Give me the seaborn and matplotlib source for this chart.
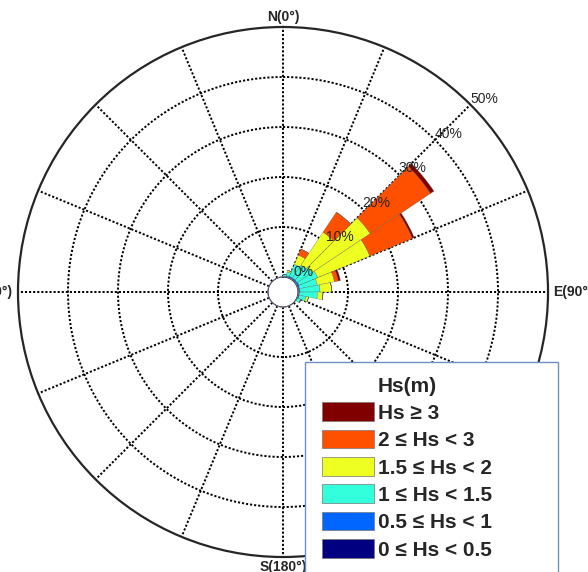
import numpy as np
import matplotlib
matplotlib.use("Agg")
import matplotlib.pyplot as plt
from matplotlib.patches import Rectangle
import seaborn as sns

# direction bins (deg, centre of 11.25 deg sectors)
directions = [5.625, 16.875, 28.125, 39.375, 50.625, 61.875, 73.125, 84.375, 95.625, 106.875, 118.125]
# frequency (%) per Hs class for each direction bin
hs_0_05 = [0.1, 0.1, 0.1, 0.1, 0.1, 0.1, 0.1, 0.1, 0.1, 0.1, 0.0]
hs_05_1 = [0.1, 0.2, 0.3, 0.3, 0.3, 0.4, 0.3, 0.3, 0.2, 0.2, 0.1]
hs_1_15 = [0.3, 0.8, 2.6, 3.1, 3.6, 4.0, 3.6, 4.0, 3.6, 1.4, 0.7]
hs_15_2 = [0.0, 0.3, 2.0, 7.9, 14.0, 11.3, 3.5, 2.3, 1.1, 0.5, 0.1]
hs_2_3 = [0.0, 0.0, 1.3, 4.8, 14.5, 9.2, 0.8, 0.0, 0.0, 0.0, 0.0]
hs_3 = [0.0, 0.0, 0.0, 0.0, 0.8, 0.4, 0.4, 0.0, 0.0, 0.0, 0.0]

classes = ["0 \u2264 Hs < 0.5", "0.5 \u2264 Hs < 1", "1 \u2264 Hs < 1.5",
           "1.5 \u2264 Hs < 2", "2 \u2264 Hs < 3", "Hs \u2265 3"]
palette = sns.color_palette(["#000080", "#0066ff", "#33ffdd", "#eeff22", "#ff5000", "#800000"])

ring_ticks = [0, 10, 20, 30, 40, 50]

sns.set_style("white")
plt.rcParams['font.family'] = ['Liberation Sans', 'DejaVu Sans']

fig = plt.figure(figsize=(5.88, 5.72), dpi=100)
ax = fig.add_axes([0.0306, 0.0262, 0.9014, 0.9266], projection='polar')
ax.set_theta_zero_location('N')
ax.set_theta_direction(-1)
ax.set_ylim(0, 50)
ax.set_rorigin(-3)

theta = np.deg2rad(directions)
width = np.deg2rad(11.25)
bottom = np.zeros(len(directions))
bars = []
for vals, col, lab in zip([hs_0_05, hs_05_1, hs_1_15, hs_15_2, hs_2_3, hs_3], palette, classes):
    b = ax.bar(theta, vals, width=width, bottom=bottom, color=col, label=lab,
               edgecolor='#555555', linewidth=0.2, zorder=2)
    bars.append(b)
    bottom = bottom + np.array(vals)

# grid
ax.set_yticks([10, 20, 30, 40])
ax.set_yticklabels([])
ax.set_xticks(np.deg2rad(np.arange(0, 360, 22.5)))
ax.set_xticklabels([])
ax.grid(True, color='black', linestyle=(0, (1.1, 1.0)), linewidth=1.4)
ax.set_axisbelow(True)
ax.spines['polar'].set_linewidth(1.6)
tt = np.linspace(0, 2 * np.pi, 200)
ax.plot(tt, np.zeros_like(tt), color='#8a8fb0', linewidth=0.9, zorder=3)

# ring labels
for r in ring_ticks:
    ax.text(np.deg2rad(46.3), r + 2.8, f"{r}%", ha='center', va='center', fontsize=10, zorder=4)

# direction labels
ax.text(0, 50.6, "N(0\u00b0)", ha='center', va='bottom', fontsize=10, fontweight='bold')
ax.text(np.pi / 2, 51, "E(90\u00b0)", ha='left', va='center', fontsize=10, fontweight='bold')
ax.text(np.pi, 50.6, "S(180\u00b0)", ha='center', va='top', fontsize=10, fontweight='bold')
ax.text(3 * np.pi / 2, 51, "W(270\u00b0)", ha='right', va='center', fontsize=10, fontweight='bold')

# legend box
box = Rectangle((305 / 588, -0.05), (558 - 305) / 588, 0.05 + 1 - 362 / 572,
                transform=fig.transFigure, facecolor='white', edgecolor='#6f8fc9',
                linewidth=1.0, clip_on=False, zorder=5)
ax.add_artist(box)
leg = ax.legend(bars[::-1], classes[::-1], loc='upper left',
                bbox_to_anchor=(307 / 588, 1 - 362 / 572), bbox_transform=fig.transFigure,
                frameon=False, title="Hs(m)", handlelength=2.5, handleheight=1.0,
                handletextpad=0.2, labelspacing=0.33, borderpad=0.2,
                prop={'weight': 'bold', 'size': 15})
leg.get_title().set_fontweight('bold')
leg.get_title().set_fontsize(15)
leg.set_zorder(6)
for h in leg.legend_handles:
    h.set_edgecolor('#777777')
    h.set_linewidth(0.5)

fig.savefig("out.png", dpi=100)
